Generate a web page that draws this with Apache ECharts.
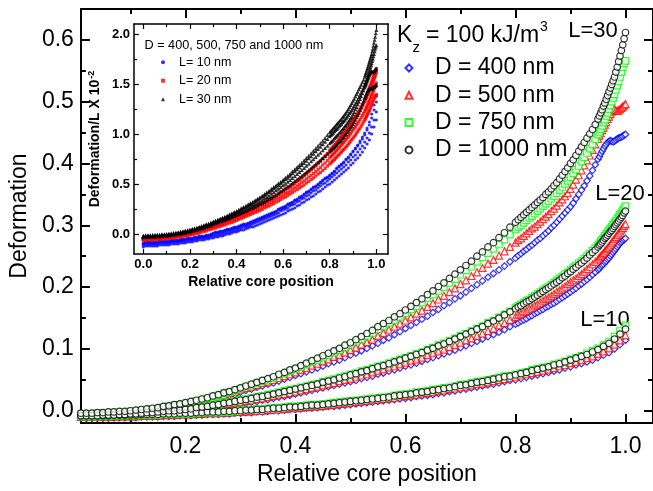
<!DOCTYPE html>
<html><head><meta charset="utf-8">
<script src="https://cdn.jsdelivr.net/npm/echarts@6/dist/echarts.min.js"></script>
<style>html,body{margin:0;padding:0;background:#fff}#c{width:653px;height:491px}</style>
</head><body><div id="c"></div>
<script>
// Relative core position, 0.01 steps (used for L = 10 nm)
const xCoarse = [0.00,0.01,
0.02,0.03,0.04,0.05,0.06,0.07,0.08,0.09,0.10,
0.11,0.12,0.13,0.14,0.15,0.16,0.17,0.18,0.19,0.20,
0.21,0.22,0.23,0.24,0.25,0.26,0.27,0.28,0.29,0.30,
0.31,0.32,0.33,0.34,0.35,0.36,0.37,0.38,0.39,0.40,
0.41,0.42,0.43,0.44,0.45,0.46,0.47,0.48,0.49,0.50,
0.51,0.52,0.53,0.54,0.55,0.56,0.57,0.58,0.59,0.60,
0.61,0.62,0.63,0.64,0.65,0.66,0.67,0.68,0.69,0.70,
0.71,0.72,0.73,0.74,0.75,0.76,0.77,0.78,0.79,0.80,
0.81,0.82,0.83,0.84,0.85,0.86,0.87,0.88,0.89,0.90,
0.91,0.92,0.93,0.94,0.95,0.96,0.97,0.98,0.99,1.00];
// Relative core position, finer near the end (used for L = 20 and 30 nm)
const xFine = [0.00,0.01,
0.02,0.03,0.04,0.05,0.06,0.07,0.08,0.09,0.10,
0.11,0.12,0.13,0.14,0.15,0.16,0.17,0.18,0.19,0.20,
0.21,0.22,0.23,0.24,0.25,0.26,0.27,0.28,0.29,0.30,
0.31,0.32,0.33,0.34,0.35,0.36,0.37,0.38,0.39,0.40,
0.41,0.42,0.43,0.44,0.45,0.46,0.47,0.48,0.49,0.50,
0.51,0.52,0.53,0.54,0.55,0.56,0.57,0.58,0.59,0.60,
0.61,0.62,0.63,0.64,0.65,0.66,0.67,0.68,0.69,0.70,
0.71,0.72,0.73,0.74,0.75,0.76,0.77,0.78,0.79,0.80,
0.805,0.810,0.815,0.820,0.825,0.830,0.835,0.840,0.845,0.850,
0.855,0.860,0.865,0.870,0.875,0.880,0.885,0.890,0.895,0.900,
0.905,0.910,0.915,0.920,0.925,0.930,0.935,0.940,0.945,0.950,
0.9525,0.955,0.9575,0.960,0.9625,0.965,0.9675,0.970,0.9725,0.975,
0.9775,0.980,0.9825,0.985,0.9875,0.990,0.9925,0.995,0.9975,1.000];

// Deformation, L = 30 nm (on xFine)
const L30_D1000 = [-0.005,-0.004,
-0.004,-0.004,-0.003,-0.003,-0.002,-0.002,-0.001,-0.001,0.000,
0.001,0.002,0.003,0.004,0.005,0.007,0.008,0.010,0.011,0.013,
0.015,0.017,0.019,0.021,0.024,0.026,0.029,0.031,0.034,0.037,
0.040,0.043,0.046,0.049,0.052,0.055,0.059,0.062,0.066,0.069,
0.073,0.077,0.081,0.085,0.089,0.093,0.097,0.101,0.106,0.110,
0.115,0.120,0.125,0.130,0.136,0.141,0.146,0.152,0.157,0.163,
0.169,0.175,0.181,0.188,0.194,0.201,0.207,0.214,0.221,0.228,
0.235,0.242,0.250,0.257,0.265,0.272,0.280,0.288,0.297,0.305,
0.309,0.313,0.317,0.321,0.325,0.329,0.333,0.337,0.341,0.345,
0.350,0.354,0.359,0.364,0.369,0.375,0.381,0.387,0.393,0.400,
0.406,0.413,0.420,0.427,0.434,0.441,0.448,0.455,0.463,0.472,
0.477,0.482,0.487,0.493,0.498,0.504,0.510,0.516,0.522,0.528,
0.534,0.540,0.548,0.556,0.565,0.574,0.583,0.592,0.602,0.612];
const L30_D750 = [-0.006,-0.005,
-0.005,-0.005,-0.004,-0.004,-0.003,-0.003,-0.002,-0.002,-0.001,
0.000,0.001,0.002,0.003,0.004,0.006,0.007,0.009,0.010,0.012,
0.014,0.016,0.018,0.020,0.023,0.025,0.028,0.030,0.033,0.036,
0.039,0.042,0.045,0.048,0.050,0.053,0.057,0.060,0.064,0.067,
0.071,0.075,0.079,0.082,0.086,0.090,0.094,0.098,0.103,0.107,
0.112,0.116,0.121,0.126,0.132,0.137,0.142,0.147,0.152,0.158,
0.164,0.169,0.175,0.182,0.188,0.194,0.200,0.207,0.213,0.220,
0.227,0.233,0.241,0.248,0.255,0.262,0.269,0.277,0.285,0.293,
0.297,0.300,0.304,0.308,0.312,0.315,0.319,0.323,0.327,0.331,
0.335,0.339,0.343,0.347,0.352,0.357,0.362,0.367,0.372,0.378,
0.384,0.390,0.396,0.403,0.410,0.417,0.424,0.431,0.439,0.447,
0.451,0.456,0.461,0.466,0.471,0.477,0.482,0.488,0.494,0.500,
0.506,0.512,0.519,0.526,0.533,0.540,0.548,0.556,0.562,0.566];
const L30_D500 = [-0.008,-0.007,
-0.007,-0.007,-0.006,-0.006,-0.005,-0.005,-0.004,-0.004,-0.003,
-0.002,-0.001,0.000,0.001,0.002,0.004,0.005,0.007,0.008,0.010,
0.012,0.014,0.016,0.018,0.021,0.023,0.025,0.028,0.031,0.034,
0.037,0.039,0.042,0.045,0.047,0.050,0.053,0.056,0.059,0.062,
0.066,0.069,0.073,0.076,0.080,0.083,0.087,0.090,0.094,0.098,
0.102,0.107,0.111,0.115,0.121,0.126,0.131,0.136,0.141,0.146,
0.151,0.157,0.162,0.168,0.174,0.180,0.186,0.192,0.198,0.205,
0.211,0.218,0.224,0.231,0.238,0.244,0.251,0.258,0.265,0.272,
0.276,0.279,0.283,0.287,0.291,0.295,0.298,0.302,0.306,0.310,
0.314,0.318,0.323,0.327,0.332,0.337,0.342,0.347,0.352,0.359,
0.366,0.374,0.381,0.389,0.397,0.405,0.413,0.422,0.431,0.440,
0.445,0.449,0.454,0.458,0.463,0.467,0.472,0.476,0.480,0.484,
0.487,0.488,0.486,0.485,0.486,0.488,0.490,0.492,0.494,0.496];
const L30_D400 = [-0.010,-0.009,
-0.009,-0.009,-0.008,-0.008,-0.007,-0.007,-0.006,-0.006,-0.005,
-0.004,-0.003,-0.002,-0.001,0.000,0.001,0.003,0.004,0.006,0.007,
0.009,0.011,0.013,0.015,0.017,0.019,0.022,0.024,0.026,0.030,
0.033,0.035,0.038,0.040,0.043,0.045,0.048,0.051,0.054,0.057,
0.060,0.063,0.066,0.069,0.072,0.076,0.079,0.082,0.086,0.090,
0.093,0.097,0.101,0.105,0.109,0.114,0.118,0.123,0.128,0.133,
0.138,0.143,0.148,0.153,0.159,0.164,0.170,0.175,0.181,0.186,
0.192,0.198,0.204,0.210,0.216,0.222,0.228,0.234,0.241,0.247,
0.251,0.254,0.258,0.261,0.265,0.268,0.272,0.276,0.279,0.283,
0.287,0.291,0.296,0.300,0.305,0.310,0.315,0.320,0.325,0.330,
0.336,0.343,0.350,0.357,0.364,0.372,0.380,0.389,0.398,0.407,
0.411,0.416,0.420,0.424,0.428,0.431,0.434,0.436,0.437,0.436,
0.435,0.436,0.438,0.440,0.441,0.442,0.443,0.444,0.446,0.447];

// Deformation, L = 20 nm (on xFine)
const L20_D1000 = [-0.009,-0.008,
-0.008,-0.008,-0.008,-0.007,-0.007,-0.007,-0.006,-0.006,-0.005,
-0.005,-0.004,-0.003,-0.003,-0.002,-0.001,0.000,0.000,0.001,0.002,
0.003,0.005,0.006,0.007,0.009,0.010,0.012,0.013,0.015,0.017,
0.018,0.020,0.022,0.023,0.025,0.027,0.029,0.031,0.033,0.035,
0.037,0.039,0.041,0.043,0.046,0.048,0.050,0.053,0.055,0.058,
0.060,0.063,0.065,0.068,0.071,0.073,0.076,0.079,0.082,0.085,
0.088,0.091,0.094,0.098,0.101,0.105,0.108,0.112,0.116,0.120,
0.124,0.128,0.132,0.136,0.141,0.145,0.150,0.155,0.160,0.165,
0.168,0.170,0.173,0.176,0.178,0.181,0.184,0.187,0.190,0.193,
0.196,0.199,0.202,0.205,0.208,0.211,0.215,0.218,0.222,0.225,
0.229,0.232,0.236,0.239,0.243,0.247,0.252,0.256,0.260,0.265,
0.268,0.270,0.273,0.276,0.279,0.281,0.284,0.287,0.290,0.292,
0.295,0.298,0.301,0.304,0.307,0.310,0.313,0.316,0.320,0.323];
const L20_D750 = [-0.010,-0.009,
-0.009,-0.009,-0.009,-0.008,-0.008,-0.008,-0.007,-0.007,-0.006,
-0.006,-0.005,-0.004,-0.004,-0.003,-0.002,-0.001,-0.001,0.000,0.002,
0.004,0.006,0.007,0.008,0.010,0.011,0.013,0.014,0.016,0.018,
0.019,0.021,0.023,0.024,0.026,0.028,0.030,0.032,0.034,0.036,
0.038,0.040,0.042,0.044,0.047,0.049,0.051,0.054,0.056,0.059,
0.061,0.064,0.066,0.069,0.072,0.074,0.077,0.080,0.083,0.086,
0.089,0.092,0.095,0.099,0.102,0.106,0.109,0.113,0.117,0.121,
0.125,0.129,0.133,0.137,0.142,0.146,0.151,0.156,0.161,0.167,
0.170,0.172,0.175,0.178,0.180,0.183,0.186,0.189,0.192,0.195,
0.198,0.201,0.204,0.207,0.211,0.214,0.217,0.221,0.224,0.228,
0.232,0.235,0.239,0.242,0.246,0.250,0.254,0.259,0.263,0.268,
0.271,0.274,0.277,0.280,0.283,0.286,0.289,0.292,0.295,0.298,
0.301,0.304,0.307,0.311,0.314,0.317,0.320,0.324,0.328,0.331];
const L20_D500 = [-0.011,-0.010,
-0.010,-0.010,-0.010,-0.009,-0.009,-0.009,-0.008,-0.008,-0.007,
-0.007,-0.006,-0.005,-0.005,-0.004,-0.003,-0.002,-0.002,-0.001,0.000,
0.001,0.003,0.004,0.005,0.007,0.008,0.010,0.011,0.013,0.014,
0.016,0.017,0.019,0.020,0.022,0.024,0.026,0.027,0.029,0.031,
0.033,0.035,0.037,0.039,0.041,0.043,0.045,0.048,0.050,0.052,
0.055,0.057,0.059,0.062,0.065,0.067,0.070,0.072,0.075,0.078,
0.081,0.083,0.086,0.090,0.093,0.096,0.099,0.103,0.106,0.110,
0.114,0.117,0.121,0.125,0.129,0.133,0.138,0.142,0.147,0.152,
0.155,0.157,0.160,0.162,0.165,0.167,0.170,0.172,0.175,0.178,
0.181,0.183,0.186,0.189,0.192,0.195,0.198,0.201,0.205,0.208,
0.211,0.214,0.218,0.221,0.225,0.229,0.233,0.237,0.241,0.245,
0.248,0.250,0.253,0.255,0.258,0.261,0.263,0.266,0.269,0.272,
0.275,0.278,0.281,0.284,0.287,0.290,0.293,0.296,0.299,0.302];
const L20_D400 = [-0.013,-0.012,
-0.012,-0.012,-0.012,-0.011,-0.011,-0.011,-0.010,-0.010,-0.009,
-0.009,-0.008,-0.008,-0.007,-0.006,-0.006,-0.005,-0.004,-0.003,-0.002,
-0.001,0.000,0.001,0.002,0.004,0.005,0.006,0.008,0.009,0.011,
0.012,0.014,0.015,0.017,0.018,0.020,0.022,0.023,0.025,0.027,
0.029,0.031,0.033,0.035,0.037,0.039,0.041,0.043,0.045,0.047,
0.049,0.052,0.054,0.056,0.059,0.061,0.064,0.066,0.069,0.072,
0.074,0.077,0.080,0.083,0.086,0.089,0.092,0.095,0.098,0.102,
0.105,0.109,0.112,0.116,0.120,0.123,0.127,0.131,0.136,0.140,
0.142,0.145,0.147,0.149,0.152,0.154,0.157,0.159,0.162,0.164,
0.167,0.169,0.172,0.174,0.177,0.180,0.183,0.186,0.189,0.192,
0.195,0.198,0.202,0.205,0.209,0.212,0.216,0.220,0.224,0.228,
0.230,0.233,0.235,0.237,0.240,0.242,0.245,0.247,0.250,0.253,
0.256,0.259,0.262,0.265,0.268,0.271,0.273,0.275,0.277,0.279];

// Deformation, L = 10 nm (on xCoarse)
const L10_D1000 = [-0.009,-0.008,
-0.008,-0.008,-0.008,-0.008,-0.008,-0.007,-0.007,-0.007,-0.007,
-0.007,-0.006,-0.006,-0.006,-0.006,-0.005,-0.005,-0.005,-0.004,-0.004,
-0.004,-0.003,-0.003,-0.002,-0.002,-0.002,-0.001,-0.001,0.000,0.000,
0.001,0.001,0.002,0.002,0.003,0.004,0.004,0.005,0.006,0.006,
0.007,0.008,0.009,0.009,0.010,0.011,0.012,0.013,0.014,0.015,
0.016,0.017,0.018,0.019,0.020,0.021,0.022,0.024,0.025,0.026,
0.027,0.029,0.030,0.031,0.033,0.034,0.036,0.037,0.039,0.041,
0.042,0.044,0.046,0.047,0.049,0.051,0.053,0.055,0.056,0.058,
0.060,0.062,0.065,0.067,0.069,0.071,0.074,0.076,0.079,0.082,
0.085,0.088,0.091,0.095,0.099,0.104,0.109,0.116,0.124,0.132];
const L10_D750 = [-0.010,-0.009,
-0.009,-0.009,-0.009,-0.009,-0.009,-0.008,-0.008,-0.008,-0.008,
-0.008,-0.007,-0.007,-0.007,-0.007,-0.006,-0.006,-0.006,-0.005,-0.005,
-0.005,-0.004,-0.004,-0.003,-0.003,-0.003,-0.002,-0.002,-0.001,0.001,
0.002,0.002,0.003,0.003,0.004,0.005,0.005,0.006,0.007,0.007,
0.008,0.009,0.010,0.010,0.011,0.012,0.013,0.014,0.015,0.016,
0.017,0.018,0.019,0.020,0.021,0.022,0.023,0.025,0.026,0.027,
0.028,0.030,0.031,0.032,0.034,0.035,0.037,0.038,0.040,0.042,
0.043,0.045,0.047,0.048,0.050,0.052,0.054,0.056,0.057,0.059,
0.061,0.063,0.066,0.068,0.070,0.072,0.075,0.077,0.080,0.083,
0.086,0.089,0.093,0.097,0.101,0.106,0.112,0.120,0.129,0.138];
const L10_D500 = [-0.011,-0.010,
-0.010,-0.010,-0.010,-0.010,-0.010,-0.009,-0.009,-0.009,-0.009,
-0.009,-0.008,-0.008,-0.008,-0.008,-0.007,-0.007,-0.007,-0.006,-0.006,
-0.006,-0.005,-0.005,-0.004,-0.004,-0.004,-0.003,-0.003,-0.002,-0.002,
-0.001,-0.001,0.000,0.000,0.001,0.002,0.002,0.003,0.004,0.004,
0.005,0.006,0.007,0.007,0.008,0.009,0.010,0.011,0.012,0.013,
0.014,0.015,0.016,0.017,0.018,0.019,0.020,0.021,0.023,0.024,
0.025,0.026,0.028,0.029,0.030,0.032,0.033,0.035,0.036,0.038,
0.039,0.041,0.043,0.044,0.046,0.048,0.050,0.051,0.053,0.055,
0.057,0.059,0.061,0.063,0.065,0.067,0.069,0.072,0.074,0.077,
0.079,0.082,0.085,0.088,0.092,0.096,0.101,0.107,0.114,0.122];
const L10_D400 = [-0.013,-0.012,
-0.012,-0.012,-0.012,-0.012,-0.012,-0.011,-0.011,-0.011,-0.011,
-0.011,-0.010,-0.010,-0.010,-0.010,-0.009,-0.009,-0.009,-0.008,-0.008,
-0.008,-0.007,-0.007,-0.006,-0.006,-0.006,-0.005,-0.005,-0.004,-0.004,
-0.003,-0.003,-0.002,-0.002,-0.001,0.000,0.000,0.001,0.002,0.002,
0.003,0.004,0.004,0.005,0.006,0.007,0.007,0.008,0.009,0.010,
0.011,0.012,0.013,0.014,0.015,0.016,0.017,0.018,0.019,0.020,
0.021,0.023,0.024,0.025,0.026,0.028,0.029,0.031,0.032,0.034,
0.035,0.037,0.038,0.040,0.042,0.043,0.045,0.047,0.049,0.050,
0.052,0.054,0.056,0.058,0.060,0.062,0.064,0.066,0.069,0.071,
0.074,0.076,0.079,0.082,0.086,0.090,0.094,0.100,0.107,0.114];

// Tick values
const mainXMajor = [0.2,0.4,0.6,0.8,1.0];
const mainXMinor = [0.1,0.3,0.5,0.7,0.9];
const mainYMajor = [0.0,0.1,0.2,0.3,0.4,0.5,0.6];
const mainYMinor = [0.05,0.15,0.25,0.35,0.45,0.55];
const insetXMajor = [0.0,0.2,0.4,0.6,0.8,1.0];
const insetXMinor = [0.1,0.3,0.5,0.7,0.9];
const insetYMajor = [0.0,0.5,1.0,1.5,2.0];
const insetYMinor = [0.25,0.75,1.25,1.75];

const diameters = ['D = 400 nm','D = 500 nm','D = 750 nm','D = 1000 nm'];
const lengths = [10,20,30];
const lengthNames = ['L= 10 nm','L= 20 nm','L= 30 nm'];
const xByL = {10:xCoarse, 20:xFine, 30:xFine};
const dataByL = {
  10: [L10_D400, L10_D500, L10_D750, L10_D1000],
  20: [L20_D400, L20_D500, L20_D750, L20_D1000],
  30: [L30_D400, L30_D500, L30_D750, L30_D1000]
};

const FONT = 'Liberation Sans, Arial, sans-serif';
const dColors = ['#0000ff','#ff0000','#00ff00','#000000'];
const dSymbols = ['diamond','triangle','rect','circle'];
const lColors = {10:'#0000ff',20:'#ff0000',30:'#000000'};
const lSymbols = {10:'circle',20:'rect',30:'triangle'};

function tickAxis(grid, pos, min, max, vals, len, width, line, lineWidth) {
  return {
    type:'value', gridIndex:grid, position:pos, min:min, max:max,
    axisLine:{show:line, onZero:false, lineStyle:{color:'#000', width:lineWidth||width}},
    axisTick:{show:true, inside:true, length:len, customValues:vals, lineStyle:{color:'#000', width:width}},
    axisLabel:{show:false}, splitLine:{show:false}
  };
}

const xAxes = [
  {type:'value', gridIndex:0, position:'bottom', min:0.01, max:1.05,
   axisLine:{show:true,onZero:false,lineStyle:{color:'#000',width:2}},
   axisTick:{show:true,inside:true,length:9,customValues:mainXMajor,lineStyle:{color:'#000',width:2}},
   axisLabel:{customValues:mainXMajor, formatter:v=>v.toFixed(1), fontSize:23, color:'#000', fontFamily:FONT, margin:12},
   splitLine:{show:false},
   name:'Relative core position', nameLocation:'middle', nameGap:38,
   nameTextStyle:{fontSize:23,color:'#000',fontFamily:FONT}},
  tickAxis(0,'bottom',0.01,1.05,mainXMinor,5,2,false),
  tickAxis(0,'top',0.01,1.05,mainXMajor,9,2,true),
  tickAxis(0,'top',0.01,1.05,mainXMinor,5,2,false),
  {type:'value', gridIndex:1, position:'bottom', min:-0.04, max:1.05,
   axisLine:{show:true,onZero:false,lineStyle:{color:'#000',width:1.5}},
   axisTick:{show:true,inside:true,length:5,customValues:insetXMajor,lineStyle:{color:'#000',width:1.2}},
   axisLabel:{customValues:insetXMajor, formatter:v=>v.toFixed(1), fontSize:13, fontWeight:'bold', color:'#000', fontFamily:FONT, margin:4},
   splitLine:{show:false},
   name:'Relative core position', nameLocation:'middle', nameGap:21,
   nameTextStyle:{fontSize:14,fontWeight:'bold',color:'#000',fontFamily:FONT}},
  tickAxis(1,'bottom',-0.04,1.05,insetXMinor,3,1.2,false),
  tickAxis(1,'top',-0.04,1.05,insetXMajor,5,1.2,true,1.5),
  tickAxis(1,'top',-0.04,1.05,insetXMinor,3,1.2,false)
];
const yAxes = [
  {type:'value', gridIndex:0, position:'left', min:-0.02, max:0.65,
   axisLine:{show:true,onZero:false,lineStyle:{color:'#000',width:2}},
   axisTick:{show:true,inside:true,length:9,customValues:mainYMajor,lineStyle:{color:'#000',width:2}},
   axisLabel:{customValues:mainYMajor, formatter:v=>v.toFixed(1), fontSize:23, color:'#000', fontFamily:FONT, margin:7},
   splitLine:{show:false},
   name:'Deformation', nameLocation:'middle', nameGap:41, nameRotate:90,
   nameTextStyle:{fontSize:23,color:'#000',fontFamily:FONT}},
  tickAxis(0,'left',-0.02,0.65,mainYMinor,5,2,false),
  tickAxis(0,'right',-0.02,0.65,mainYMajor,9,2,true),
  tickAxis(0,'right',-0.02,0.65,mainYMinor,5,2,false),
  {type:'value', gridIndex:1, position:'left', min:-0.2, max:2.1,
   axisLine:{show:true,onZero:false,lineStyle:{color:'#000',width:1.5}},
   axisTick:{show:true,inside:true,length:5,customValues:insetYMajor,lineStyle:{color:'#000',width:1.2}},
   axisLabel:{customValues:insetYMajor, formatter:v=>v.toFixed(1), fontSize:13, fontWeight:'bold', color:'#000', fontFamily:FONT, margin:4},
   splitLine:{show:false},
   name:'{a|Deformation/L X 10}{s|-2}', nameLocation:'middle', nameGap:30, nameRotate:90,
   nameTextStyle:{fontSize:14,fontWeight:'bold',color:'#000',fontFamily:FONT,
     rich:{a:{fontSize:14,fontWeight:'bold',fontFamily:FONT,color:'#000'},
           s:{fontSize:9,fontWeight:'bold',fontFamily:FONT,color:'#000',verticalAlign:'top',padding:[0,0,8,1]}}}},
  tickAxis(1,'left',-0.2,2.1,insetYMinor,3,1.2,false),
  tickAxis(1,'right',-0.2,2.1,insetYMajor,5,1.2,true,1.5),
  tickAxis(1,'right',-0.2,2.1,insetYMinor,3,1.2,false)
];

const series = [];
// main plot: drawn by diameter so the black circles end on top
for (let d = 0; d < 4; d++) {
  lengths.forEach(L => {
    const vals = dataByL[L][d], xs = xByL[L];
    series.push({
      type:'scatter', name:diameters[d], xAxisIndex:0, yAxisIndex:0,
      symbol:dSymbols[d], symbolSize: d===1 ? 7 : 6.5,
      itemStyle:{color:'#ffffff', borderColor:dColors[d], borderWidth:1.2},
      data: xs.map((x,i)=>[x, vals[i]]), silent:true
    });
  });
}
// inset: deformation / L, in units of 10^-2
lengths.forEach((L,li) => {
  for (let d = 0; d < 4; d++) {
    const vals = dataByL[L][d], xs = xByL[L];
    series.push({
      type:'scatter', name:lengthNames[li], xAxisIndex:4, yAxisIndex:4,
      symbol:lSymbols[L], symbolSize: L===30 ? 4 : 3.2,
      itemStyle:{color:lColors[L], borderWidth:0},
      data: xs.map((x,i)=>[x, vals[i] / L * 100]), silent:true
    });
  }
});

const option = {
  animation:false,
  backgroundColor:'#fff',
  grid:[
    {left:77, top:9, right:0, bottom:60, containLabel:false},
    {left:134, top:24, width:254, height:230, show:true, backgroundColor:'#fff', borderWidth:0}
  ],
  xAxis:xAxes, yAxis:yAxes, series:series,
  legend:[
    {orient:'vertical', left:404.5, top:56.5, padding:0, itemWidth:7, itemHeight:7, itemGap:4.3,
     data:diameters, selectedMode:false,
     textStyle:{fontSize:23, lineHeight:23, color:'#000', fontFamily:FONT, padding:[0,0,0,17.5]}},
    {orient:'vertical', left:161, top:55.7, padding:0, itemWidth:4, itemHeight:4, itemGap:5.5,
     data:lengthNames, selectedMode:false,
     textStyle:{fontSize:12.5, lineHeight:12, color:'#000', fontFamily:FONT, padding:[0,0,0,9]}}
  ],
  graphic:[
    {type:'text', x:397, y:36, style:{text:'K', font:'23px Liberation Sans', fill:'#000', textAlign:'left', textVerticalAlign:'middle'}},
    {type:'text', x:412.5, y:48, style:{text:'z', font:'15px Liberation Sans', fill:'#000', textAlign:'left', textVerticalAlign:'middle'}},
    {type:'text', x:426, y:36, style:{text:'= 100 kJ/m', font:'23px Liberation Sans', fill:'#000', textAlign:'left', textVerticalAlign:'middle'}},
    {type:'text', x:540, y:27, style:{text:'3', font:'14px Liberation Sans', fill:'#000', textAlign:'left', textVerticalAlign:'middle'}},
    {type:'text', x:593, y:31, style:{text:'L=30', font:'22px Liberation Sans', fill:'#000', textAlign:'center', textVerticalAlign:'middle'}},
    {type:'text', x:620, y:194, style:{text:'L=20', font:'22px Liberation Sans', fill:'#000', textAlign:'center', textVerticalAlign:'middle'}},
    {type:'text', x:605, y:320, style:{text:'L=10', font:'22px Liberation Sans', fill:'#000', textAlign:'center', textVerticalAlign:'middle'}},
    {type:'text', x:144.5, y:45, style:{text:'D = 400, 500, 750 and 1000 nm', font:'12.7px Liberation Sans', fill:'#000', textAlign:'left', textVerticalAlign:'middle'}}
  ]
};
const chart = echarts.init(document.getElementById('c'), null, {renderer:'canvas'});
chart.setOption(option);
</script>
</body></html>
